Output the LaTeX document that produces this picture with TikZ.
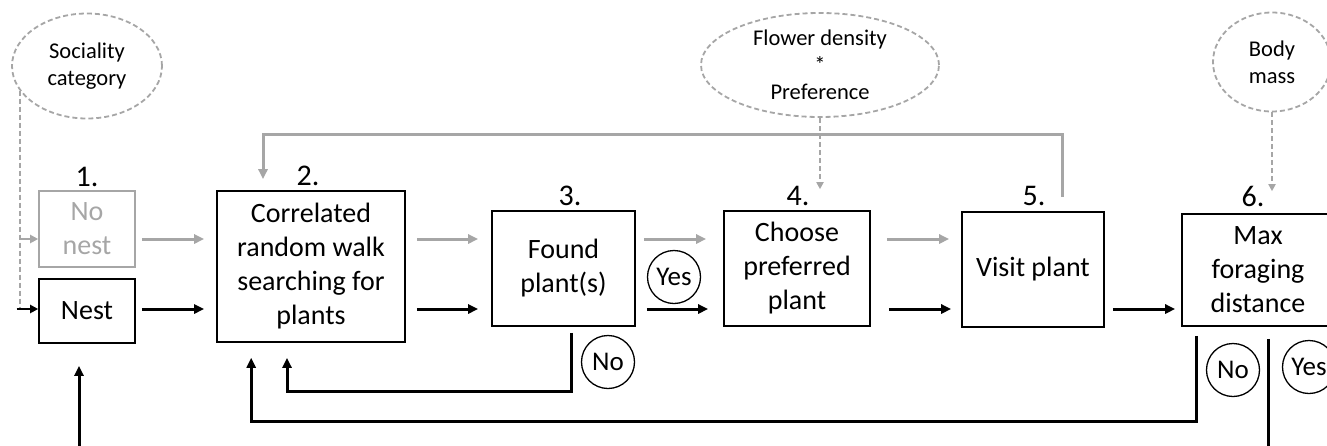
\documentclass[tikz,border=0pt]{standalone}
\usepackage{fontspec}
\setmainfont{Carlito}
\usetikzlibrary{arrows.meta,shapes.geometric}
\definecolor{lg}{HTML}{A6A6A6}
\definecolor{dg}{HTML}{A6A6A6}
\begin{document}
\begin{tikzpicture}[x=1pt,y=-1pt,
  box/.style={draw, line width=1.6pt, align=center, inner sep=0pt, font=\fontsize{28}{34}\selectfont},
  gbox/.style={box, draw=lg, text=lg},
  num/.style={inner sep=0pt, font=\fontsize{30}{36}\selectfont},
  ell/.style={draw=dg, dash pattern=on 5pt off 3pt, line width=1.8pt, ellipse, align=center, inner sep=0pt, font=\fontsize{22.5}{27}\selectfont},
  circ/.style={draw, circle, line width=1.3pt, minimum size=53pt, inner sep=0pt, font=\fontsize{27}{30}\selectfont},
  barr/.style={line width=3pt, -{Triangle[length=10pt,width=9pt]}},
  garr/.style={line width=3pt, draw=lg, -{Triangle[length=10pt,width=9pt]}, color=lg},
  bline/.style={line width=3pt},
  darr/.style={draw=dg, line width=2pt, dash pattern=on 5pt off 3pt, -{Triangle[length=7pt,width=7pt]}, color=dg},
]
\useasboundingbox (0,0) rectangle (1327,445);
\clip (0,0) rectangle (1327,445);
\coordinate (gy) at (0,239);
\coordinate (by) at (0,309);
\coordinate (bot) at (0,450);

% ellipses
\node[ell, minimum width=150pt, minimum height=105pt] (soc) at (87,66) {Sociality\\category};
\node[ell, minimum width=238pt, minimum height=104pt] (flower) at (820,65) {Flower density\\*\\Preference};
\node[ell, minimum width=118pt, minimum height=99pt] (body) at (1272,62) {Body\\mass};

% boxes
\node[gbox, minimum width=96pt, minimum height=76pt] (nonest) at (87,229) {No\\nest};
\node[box, minimum width=96pt, minimum height=64pt] (nest) at (87,311) {Nest};
\node[box, minimum width=188pt, minimum height=151pt] (b2) at (311,266.5) {Correlated\\random walk\\searching for\\plants};
\node[box, minimum width=143pt, minimum height=115pt] (b3) at (563.5,268.5) {Found\\plant(s)};
\node[box, minimum width=146pt, minimum height=115pt] (b4) at (797,268.5) {Choose\\preferred\\plant};
\node[box, minimum width=142pt, minimum height=115pt] (b5) at (1033,269.5) {Visit plant};
\node[box, minimum width=152pt, minimum height=112pt] (b6) at (1258,270) {Max\\foraging\\distance};

% numbers
\node[num] (l1) at (87,177) {1.};
\node[num] (l2) at (308,176) {2.};
\node[num] (l3) at (570,196) {3.};
\node[num] (l4) at (798,196) {4.};
\node[num] (l5) at (1034,196) {5.};
\node[num] (l6) at (1253,196) {6.};

% circles
\node[circ] (yes1) at (674,277) {Yes};
\node[circ] (no1) at (608,362) {No};
\node[circ] (no2) at (1233,370) {No};
\node[circ] (yes2) at (1309,367) {Yes};

% gray arrows
\draw[garr] ([xshift=6pt]nonest.east |- gy) -- ([xshift=-12pt]b2.west |- gy);
\draw[garr] ([xshift=11pt]b2.east |- gy) -- ([xshift=-13pt]b3.west |- gy);
\draw[garr] ([xshift=8pt]b3.east |- gy) -- ([xshift=-17pt]b4.west |- gy);
\draw[garr] ([xshift=16pt]b4.east |- gy) -- ([xshift=-12pt]b5.west |- gy);

% black arrows
\draw[barr] ([xshift=6pt]nest.east |- by) -- ([xshift=-12pt]b2.west |- by);
\draw[barr] ([xshift=11pt]b2.east |- by) -- ([xshift=-13pt]b3.west |- by);
\draw[barr] ([xshift=11pt]b3.east |- by) -- ([xshift=-15pt]b4.west |- by);
\draw[barr] ([xshift=18pt]b4.east |- by) -- ([xshift=-10pt]b5.west |- by);
\draw[barr] ([xshift=8pt]b5.east |- by) -- ([xshift=-6pt]b6.west |- by);

% top gray loop
\draw[garr] ([shift={(29pt,14pt)}]b5.north) -- ++(0,-63) -| ([shift={(-48pt,11pt)}]b2.north);

% dashed influences
\draw[darr, shorten >=21pt] (flower.south) -- (flower.south |- b4.north);
\draw[darr, shorten >=22pt] (body.south) -- (body.south |- b6.north);
\draw[draw=dg, line width=2pt, dash pattern=on 5pt off 3pt] (soc.200) -- (soc.200 |- by);
\draw[line width=2.5pt, draw=lg, -{Triangle[length=8pt,width=8pt]}, color=lg] (soc.200 |- gy) -- (nonest.west |- gy);
\draw[line width=2.5pt, -{Triangle[length=8pt,width=8pt]}] ([xshift=-3pt]soc.200 |- by) -- (nest.west |- by);

% no loop from found plants
\draw[barr] ([shift={(7.5pt,-6pt)}]b3.south) -- ++(0,59) -| ([shift={(-24pt,-15pt)}]b2.south);
% long loop from max foraging distance
\draw[barr] ([shift={(15pt,-9pt)}]b6.south west) -- ++(0,86) -| ([shift={(35pt,-15pt)}]b2.south west);
% nest up arrow
\draw[barr] ([xshift=-8pt]nest.south |- bot) -- ([shift={(-8pt,-22pt)}]nest.south);
% yes line down
\draw[bline] ([shift={(87pt,-12pt)}]b6.south west) -- ++(0,120);
\end{tikzpicture}
\end{document}
